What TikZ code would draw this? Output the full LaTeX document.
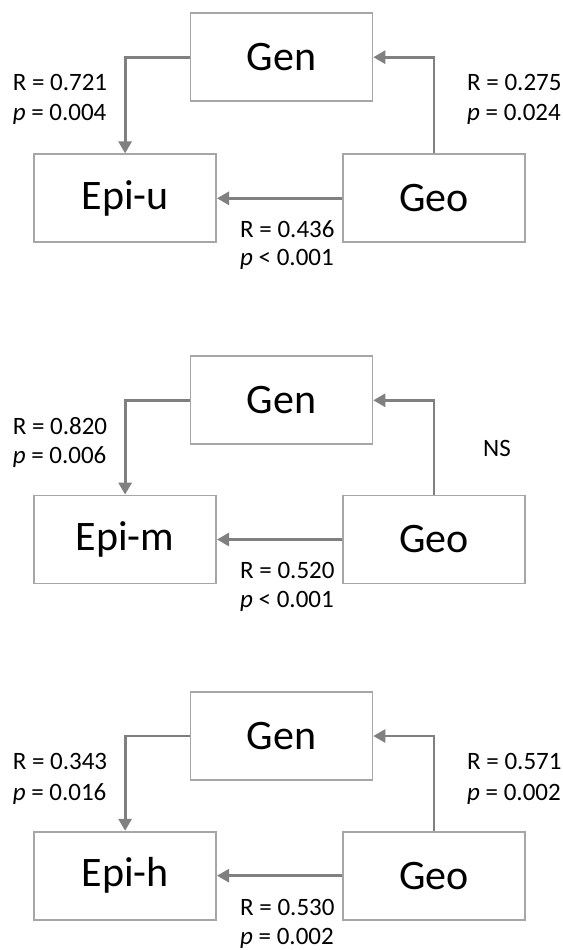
\documentclass[tikz,border=0pt]{standalone}
\usepackage{fontspec}
\setmainfont{Carlito}
\usetikzlibrary{arrows.meta}
\definecolor{boxgray}{HTML}{A6A6A6}
\definecolor{arrgray}{HTML}{808080}
\tikzset{
  box/.style={draw=boxgray, line width=1.8pt, minimum width=182pt, minimum height=88pt, inner sep=0pt, font=\fontsize{42}{46}\selectfont},
  arr/.style={draw=arrgray, line width=2.8pt, -{Triangle[length=12pt,width=13pt]}},
  lab/.style={anchor=base west, inner sep=0pt, font=\fontsize{25}{30}\selectfont}
}
\begin{document}
\begin{tikzpicture}[x=1pt,y=-1pt]
\useasboundingbox (0,0) rectangle (562,950);
% Panel 1
\node[box] (gen1) at (281.4,57.2) {Gen};
\node[box] (epi1) at (125.1,198.3) {Epi-u};
\node[box] (geo1) at (434,198.3) {Geo};
\draw[arr] (gen1.west) -| (epi1.north);
\draw[arr] (geo1.north) |- (gen1.east);
\draw[arr] (geo1.west) -- (epi1.east);
\node[lab] (l1a) at (12.6,90.7) {R = 0.721};
\node[lab] (l1b) at (12.6,120.7) {\textit{p} = 0.004};
\node[lab] (r1a) at (467,90.7) {R = 0.275};
\node[lab] (r1b) at (467,120.7) {\textit{p} = 0.024};
\node[lab] (b1a) at (240,237) {R = 0.436};
\node[lab] (b1b) at (240,265) {\textit{p} < 0.001};
% Panel 2
\node[box] (gen2) at (281.4,400.3) {Gen};
\node[box] (epi2) at (125.1,539.5) {Epi-m};
\node[box] (geo2) at (434,539.5) {Geo};
\draw[arr] (gen2.west) -| (epi2.north);
\draw[arr] (geo2.north) |- (gen2.east);
\draw[arr] (geo2.west) -- (epi2.east);
\node[lab] (l2a) at (12.6,434) {R = 0.820};
\node[lab] (l2b) at (12.6,463.3) {\textit{p} = 0.006};
\node[lab] (ns2) at (483,456.7) {NS};
\node[lab] (b2a) at (240,578.3) {R = 0.520};
\node[lab] (b2b) at (240,607.5) {\textit{p} < 0.001};
% Panel 3
\node[box] (gen3) at (281.4,736) {Gen};
\node[box] (epi3) at (125.1,875.7) {Epi-h};
\node[box] (geo3) at (434,875.7) {Geo};
\draw[arr] (gen3.west) -| (epi3.north);
\draw[arr] (geo3.north) |- (gen3.east);
\draw[arr] (geo3.west) -- (epi3.east);
\node[lab] (l3a) at (12.6,769.3) {R = 0.343};
\node[lab] (l3b) at (12.6,800) {\textit{p} = 0.016};
\node[lab] (r3a) at (467,769.3) {R = 0.571};
\node[lab] (r3b) at (467,800) {\textit{p} = 0.002};
\node[lab] (b3a) at (240,915) {R = 0.530};
\node[lab] (b3b) at (240,944) {\textit{p} = 0.002};
\end{tikzpicture}
\end{document}
